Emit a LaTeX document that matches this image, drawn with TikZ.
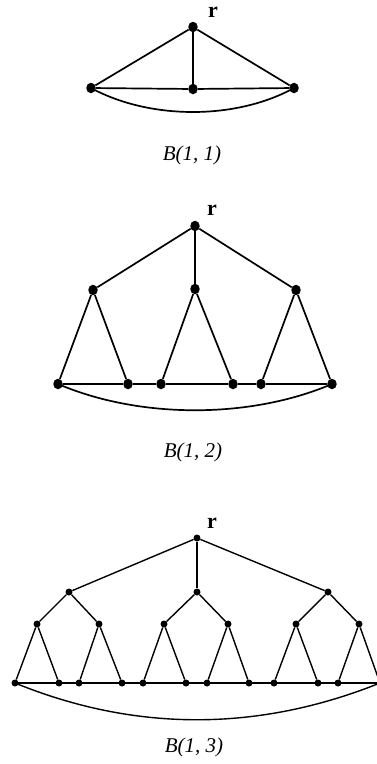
\documentclass[tikz,border=0pt]{standalone}
\usepackage{fontspec}
\usetikzlibrary{shapes.geometric}
\setmainfont{Liberation Serif}
\begin{document}
\begin{tikzpicture}[x=1pt,y=-1pt,
  dotA/.style={ellipse,fill=black,inner sep=0pt,minimum width=9.5pt,minimum height=10.5pt},
  dotB/.style={circle,fill=black,inner sep=0pt,minimum size=7pt},
  edgeA/.style={line width=1.7pt},
  edgeB/.style={line width=1.4pt},
  rlab/.style={font=\fontsize{22}{24}\selectfont\bfseries},
  captxt/.style={font=\fontsize{21}{23}\selectfont\itshape}]
\clip (0,0) rectangle (377,764);
% ---------- B(1,1) ----------
\node[dotA] (g1r) at (193,27) {};
\node[dotA] (g1a) at (91,88) {};
\node[dotA] (g1b) at (193,89) {};
\node[dotA] (g1c) at (294,88) {};
\node[rlab] (g1lab) at (213,12) {r};
\draw[edgeA] (g1r) -- (g1a);
\draw[edgeA] (g1r) -- (g1b);
\draw[edgeA] (g1r) -- (g1c);
\draw[edgeA] (g1a) -- (g1b) -- (g1c);
\draw[edgeA] (g1a.center) .. controls (150,120) and (236,120) .. (g1c.center);
\node[captxt] (g1cap) at (192,155) {B(1, 1)};
% ---------- B(1,2) ----------
\node[dotA] (g2r) at (195,226) {};
\node[rlab] (g2lab) at (212,210) {r};
\node[dotA] (g2m1) at (93,290) {};
\node[dotA] (g2m2) at (195,289) {};
\node[dotA] (g2m3) at (296,290) {};
\foreach \i/\x in {1/58,2/128,3/161,4/233,5/261,6/332}
  \node[dotA] (g2l\i) at (\x,384) {};
\draw[edgeA] (g2r) -- (g2m1);
\draw[edgeA] (g2r) -- (g2m2);
\draw[edgeA] (g2r) -- (g2m3);
\draw[edgeA] (g2m1) -- (g2l1); \draw[edgeA] (g2m1) -- (g2l2);
\draw[edgeA] (g2m2) -- (g2l3); \draw[edgeA] (g2m2) -- (g2l4);
\draw[edgeA] (g2m3) -- (g2l5); \draw[edgeA] (g2m3) -- (g2l6);
\draw[edgeA] (g2l1) -- (g2l2) -- (g2l3) -- (g2l4) -- (g2l5) -- (g2l6);
\draw[edgeA] (g2l1.center) .. controls (140,419) and (250,419) .. (g2l6.center);
\node[captxt] (g2cap) at (193,452) {B(1, 2)};
% ---------- B(1,3) ----------
\node[dotB] (g3r) at (197,538) {};
\node[rlab] (g3lab) at (212,523) {r};
\node[dotB] (g3a) at (69,592) {};
\node[dotB] (g3b) at (197,592) {};
\node[dotB] (g3c) at (328,592) {};
\foreach \i/\x in {1/37,2/99,3/164,4/228,5/296,6/359}
  \node[dotB] (g3m\i) at (\x,624) {};
\foreach \i/\x in {1/15,2/59,3/79,4/122,5/143,6/186,7/207,8/249,9/274,10/318,11/338,12/380}
  \node[dotB] (g3l\i) at (\x,683) {};
\draw[edgeB] (g3r) -- (g3a);
\draw[edgeB] (g3r) -- (g3b);
\draw[edgeB] (g3r) -- (g3c);
\draw[edgeB] (g3a) -- (g3m1); \draw[edgeB] (g3a) -- (g3m2);
\draw[edgeB] (g3b) -- (g3m3); \draw[edgeB] (g3b) -- (g3m4);
\draw[edgeB] (g3c) -- (g3m5); \draw[edgeB] (g3c) -- (g3m6);
\draw[edgeB] (g3m1) -- (g3l1); \draw[edgeB] (g3m1) -- (g3l2);
\draw[edgeB] (g3m2) -- (g3l3); \draw[edgeB] (g3m2) -- (g3l4);
\draw[edgeB] (g3m3) -- (g3l5); \draw[edgeB] (g3m3) -- (g3l6);
\draw[edgeB] (g3m4) -- (g3l7); \draw[edgeB] (g3m4) -- (g3l8);
\draw[edgeB] (g3m5) -- (g3l9); \draw[edgeB] (g3m5) -- (g3l10);
\draw[edgeB] (g3m6) -- (g3l11); \draw[edgeB] (g3m6) -- (g3l12);
\draw[edgeB] (g3l1.center) -- (g3l12.center);
\draw[edgeB] (g3l1.center) .. controls (135,732) and (258,732) .. (g3l12.center);
\node[captxt] (g3cap) at (194,747) {B(1, 3)};
\end{tikzpicture}
\end{document}
